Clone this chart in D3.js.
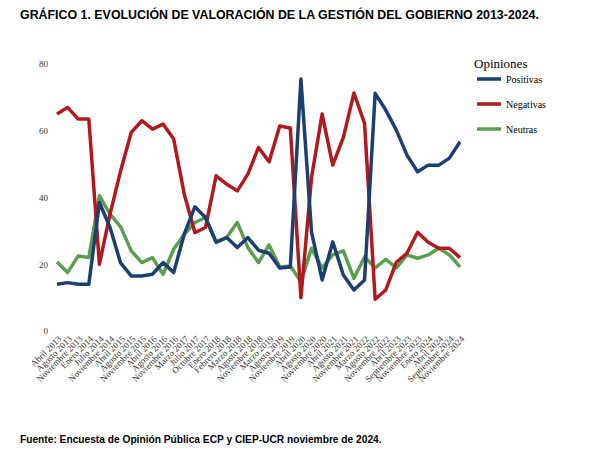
<!DOCTYPE html><html><head><meta charset="utf-8"><script src="https://d3js.org/d3.v7.min.js"></script>
<style>body{margin:0;background:#fff}</style></head><body><svg id="c" width="589" height="457"></svg><script>
const categories=["Abril 2013","Agosto 2013","Noviembre 2013","Enero 2014","Julio 2014","Noviembre 2014","Abril 2015","Agosto 2015","Noviembre 2015","Abril 2016","Agosto 2016","Noviembre 2016","Marzo 2017","Julio 2017","Octubre 2017","Enero 2018","Febrero 2018","Marzo 2018","Agosto 2018","Noviembre 2018","Marzo 2019","Agosto 2019","Noviembre 2019","Abril 2020","Agosto 2020","Noviembre 2020","Abril 2021","Agosto 2021","Noviembre 2021","Marzo 2022","Agosto 2022","Noviembre 2022","Abril 2023","Septiembre 2023","Noviembre 2023","Enero 2024","Abril 2024","Septiembre 2024","Noviembre 2024"];
const positivas=[14,14.5,14,14,38.5,31,20.4,16.5,16.5,17,20.5,17.5,29,37.2,34,26.7,28,25,28,24.2,23.3,18.9,19.2,75.5,29.6,15.3,26.7,16.8,12.3,15.3,71.2,66.2,60.2,52.7,47.7,49.7,49.7,51.8,56.7];
const negativas=[65,67,63.5,63.5,20,35,48,59.5,63,60.5,62,57.5,41,29.5,31,46.5,44,42,47,55,50.7,61.4,60.8,10,46,65,49.7,58,71.3,62.2,9.5,12.3,20.6,23.3,29.6,26.6,24.8,24.8,22];
const neutras=[20.7,17.5,22.5,22,40.5,35,31.2,24,20.5,22,17,24.5,29,32.5,34,26.5,28,32.5,25,20.5,25.8,19.2,19.5,14.8,24.8,18.9,22.8,24,15.8,22.2,18.9,21.5,18.9,22.8,21.8,22.8,24.8,22.8,19.2];
const yTicks=[0,20,40,60,80];
const seriesNames=["Positivas","Negativas","Neutras"];
const colors=["#1b3f70","#b3191c","#5a9f4e"];
const svg=d3.select("#c");
const x=d3.scalePoint().domain(categories).range([57,460]);
const y=d3.scaleLinear().domain([0,80]).range([331,64]);
svg.append("text").attr("x",20).attr("y",19).attr("font-family","Liberation Sans, Arial").attr("font-weight","bold").attr("font-size",12.4).text("GRÁFICO 1. EVOLUCIÓN DE VALORACIÓN DE LA GESTIÓN DEL GOBIERNO 2013-2024.");
const ya=svg.append("g").attr("transform","translate(48,0)").call(d3.axisLeft(y).tickValues(yTicks).tickSize(0).tickPadding(0));
ya.select(".domain").remove();
ya.selectAll("text").attr("font-family","Liberation Serif, serif").attr("font-size",9).attr("fill","#333");
const xa=svg.append("g").attr("transform","translate(0,335)").call(d3.axisBottom(x).tickSize(0).tickPadding(0));
xa.select(".domain").remove();
xa.selectAll("text").attr("font-family","Liberation Serif, serif").attr("font-size",9).attr("fill","#333").attr("text-anchor","end").attr("dy","0.7em").attr("transform","rotate(-45)");
const data=[positivas,negativas,neutras];
const line=d3.line().x((d,i)=>x(categories[i])).y(d=>y(d));
[2,1,0].forEach(k=>{svg.append("path").datum(data[k]).attr("d",line).attr("fill","none").attr("stroke",colors[k]).attr("stroke-width",3.5).attr("stroke-linejoin","round");});
svg.append("text").attr("x",474).attr("y",68).attr("font-family","Liberation Serif, serif").attr("font-size",13).text("Opiniones");
seriesNames.forEach((n,k)=>{const yy=79+k*25;
svg.append("line").attr("x1",477).attr("x2",501).attr("y1",yy).attr("y2",yy).attr("stroke",colors[k]).attr("stroke-width",3.5);
svg.append("text").attr("x",506).attr("y",yy+3.5).attr("font-family","Liberation Serif, serif").attr("font-size",10).text(n);});
svg.append("text").attr("x",20).attr("y",443).attr("font-family","Liberation Sans, Arial").attr("font-weight","bold").attr("font-size",10.2).text("Fuente: Encuesta de Opinión Pública ECP y CIEP-UCR noviembre de 2024.");
</script></body></html>
